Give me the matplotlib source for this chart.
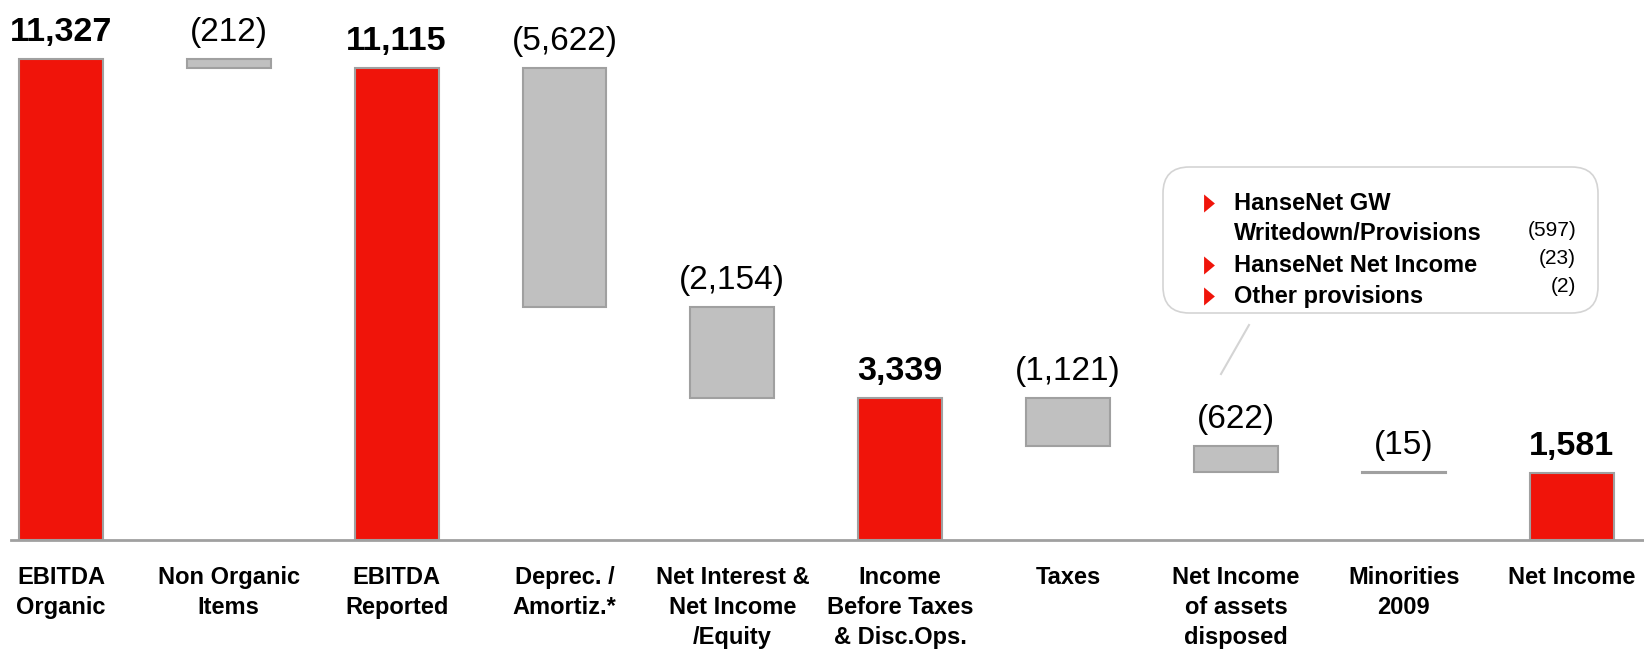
import matplotlib
matplotlib.use('Agg')
import matplotlib.pyplot as plt
from matplotlib.patches import FancyBboxPatch

plt.rcParams['font.family'] = ['Liberation Sans', 'DejaVu Sans']

# data
categories = ['EBITDA\nOrganic', 'Non Organic\nItems', 'EBITDA\nReported', 'Deprec. /\nAmortiz.*',
              'Net Interest &\nNet Income\n/Equity', 'Income\nBefore Taxes\n& Disc.Ops.', 'Taxes',
              'Net Income\nof assets\ndisposed', 'Minorities\n2009', 'Net Income']
values = [11327, -212, 11115, -5622, -2154, 3339, -1121, -622, -15, 1581]
is_total = [True, False, True, False, False, True, False, False, False, True]
value_labels = ['11,327', '(212)', '11,115', '(5,622)', '(2,154)', '3,339', '(1,121)', '(622)', '(15)', '1,581']

callout_lines = ['HanseNet GW', 'Writedown/Provisions', 'HanseNet Net Income', 'Other provisions']
callout_values = ['(597)', '(23)', '(2)']

RED = '#F0140A'
GREY = '#C0C0C0'
EDGE = '#A0A0A0'

# waterfall bottoms
bottoms = []
heights = []
running = 0
for v, tot in zip(values, is_total):
    if tot:
        bottoms.append(0)
        heights.append(v)
        running = v
    else:
        running += v
        bottoms.append(running)
        heights.append(-v)

fig = plt.figure(figsize=(16.44, 6.5), dpi=100)
ax = fig.add_axes([0, 110 / 650, 1, 540 / 650])

x = list(range(len(values)))
colors = [RED if t else GREY for t in is_total]
ax.bar(x, heights, bottom=bottoms, width=0.5, color=colors, edgecolor=EDGE, linewidth=1.5, zorder=3)

for xi, b, h, lab, tot in zip(x, bottoms, heights, value_labels, is_total):
    ax.annotate(lab, (xi, b + h), xytext=(0, 13), textcoords='offset points',
                ha='center', va='baseline', fontsize=24.5 if tot else 24,
                fontweight='bold' if tot else 'normal', color='black')

ax.set_xlim(-0.363, 9.431)
ax.set_ylim(0, 12717)
ax.set_xticks(x, labels=categories)
ax.tick_params(axis='x', length=0, pad=18.5, labelsize=17)
for t in ax.get_xticklabels():
    t.set_fontweight('bold')
    t.set_linespacing(1.4)
ax.set_yticks([])
for s in ['top', 'right', 'left']:
    ax.spines[s].set_visible(False)
ax.spines['bottom'].set_color(EDGE)
ax.spines['bottom'].set_linewidth(2)
ax.spines['bottom'].set_bounds(-0.30, 9.431)

# callout box
def fx(px):
    return px / 1644

def fy(py):
    return 1 - py / 650

box = FancyBboxPatch((fx(1163), fy(313)), fx(1598) - fx(1163), fy(167) - fy(313),
                     boxstyle='round,pad=0,rounding_size=0.016', mutation_aspect=1644 / 650,
                     transform=fig.transFigure, facecolor='white', edgecolor='#D4D4D4', linewidth=1.2)
fig.patches.append(box)
fig.add_artist(plt.Line2D([fx(1249), fx(1221)], [fy(325), fy(374)], color='#D4D4D4', linewidth=1.5))

line_y = [203, 234, 265, 296]
for txt, py in zip(callout_lines, line_y):
    fig.text(fx(1234), fy(py), txt, ha='left', va='center', fontsize=17, fontweight='bold')
tri = [(-0.3, -0.5), (0.3, 0), (-0.3, 0.5)]
for py in [line_y[0], line_y[2], line_y[3]]:
    fig.add_artist(plt.Line2D([fx(1209)], [fy(py)], marker=tri, markersize=13,
                              color=RED, markeredgewidth=0, linestyle='none'))
for txt, py in zip(callout_values, [230, 258, 287]):
    fig.text(fx(1576), fy(py), txt, ha='right', va='center', fontsize=15)

fig.savefig('out.png', dpi=100)
